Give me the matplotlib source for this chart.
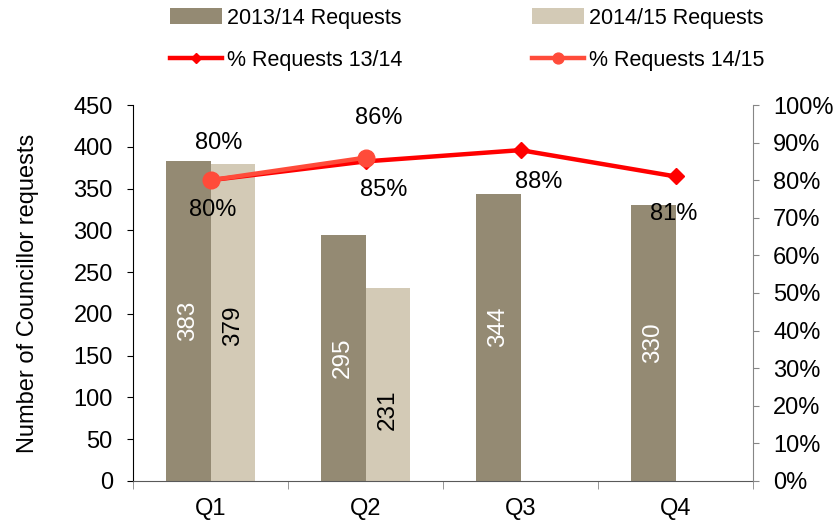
import numpy as np
import matplotlib.pyplot as plt
from matplotlib.ticker import PercentFormatter, FixedLocator

plt.rcParams['font.family'] = ['Liberation Sans', 'DejaVu Sans']

quarters = ['Q1', 'Q2', 'Q3', 'Q4']
requests_1314 = [383, 295, 344, 330]
requests_1415 = [379, 231]
pct_1314 = [80, 85, 88, 81]
pct_1415 = [80, 86]

dark = '#948A73'
light = '#D3CAB6'
red = '#FF0000'
red2 = '#FF4B3A'
fs = 17

fig = plt.figure(figsize=(8.38, 5.24), dpi=100)
ax = fig.add_axes([0.1587, 0.0821, 0.74, 0.7175])
ax2 = ax.twinx()

x = np.arange(len(quarters))
w = 0.29
x14 = x[:len(requests_1415)]
b1 = ax.bar(x - w / 2, requests_1314, w, color=dark, label='2013/14 Requests', zorder=2)
b2 = ax.bar(x14 + w / 2, requests_1415, w, color=light,
            label='2014/15 Requests', zorder=2)

# value labels inside the bars, rotated; small nudges (pixels) as in the original
nudge_1314 = [0, 0, 11, 0]
nudge_1415 = [-3, -25]
for i, v in enumerate(requests_1314):
    ax.annotate(str(v), (x[i] - w / 2, v / 2), xytext=(0, nudge_1314[i]),
                textcoords='offset pixels', ha='center', va='center',
                rotation=90, color='white', fontsize=17.5, zorder=3)
for i, v in enumerate(requests_1415):
    ax.annotate(str(v), (x14[i] + w / 2, v / 2), xytext=(0, nudge_1415[i]),
                textcoords='offset pixels', ha='center', va='center',
                rotation=90, color='black', fontsize=17.5, zorder=3)

l1, = ax2.plot(x, pct_1314, color=red, lw=3.2, marker='D', markersize=8,
               label='% Requests 13/14', zorder=3)
l2, = ax2.plot(x14, pct_1415, color=red2, lw=3.2, marker='o',
               markersize=12, label='% Requests 14/15', zorder=4)

# data labels (offsets in pixels): 13/14 below the points, 14/15 above
off_below = [(2, -30), (18, -29), (18, -32), (-2, -38)]
for i, v in enumerate(pct_1314):
    ax2.annotate(f'{v}%', (x[i], v), xytext=off_below[i], textcoords='offset pixels',
                 ha='center', va='center', fontsize=fs)
off_above = [(8, 37), (13, 40)]
for i, v in enumerate(pct_1415):
    ax2.annotate(f'{v}%', (x14[i], v), xytext=off_above[i], textcoords='offset pixels',
                 ha='center', va='center', fontsize=fs)

ax.set_xlim(-0.5, 3.5)
ax.set_ylim(0, 450)
ax.set_yticks(np.arange(0, 451, 50))
ax2.set_ylim(0, 100)
ax2.set_yticks(np.arange(0, 101, 10))
ax2.yaxis.set_major_formatter(PercentFormatter(decimals=0))

ax.set_xticks(x)
ax.set_xticklabels(quarters)
ax.xaxis.set_minor_locator(FixedLocator(np.arange(-0.5, 3.6, 1)))
ax.tick_params(axis='x', which='major', length=0, pad=12, labelsize=fs)
ax.tick_params(axis='x', which='minor', length=6, color='#868686', direction='out')
ax.tick_params(axis='y', length=4.5, direction='out', labelsize=fs, pad=10)
ax2.tick_params(axis='y', length=4.5, direction='out', labelsize=fs, color='#868686', pad=10)

ax.spines['top'].set_visible(False)
ax2.spines['top'].set_visible(False)
ax.spines['right'].set_visible(False)
ax2.spines['left'].set_visible(False)
ax2.spines['bottom'].set_visible(False)
ax2.spines['right'].set_color('#868686')
ax.spines['bottom'].set_color('#595959')
ax.spines['left'].set_color('black')

ax.set_ylabel('Number of Councillor requests', fontsize=fs, labelpad=25)

fig.legend([b1, l1, b2, l2], ['2013/14 Requests', '% Requests 13/14',
                              '2014/15 Requests', '% Requests 14/15'],
           ncol=2, loc='upper left', bbox_to_anchor=(0.1926, 1.002), frameon=False,
           borderaxespad=0, fontsize=15.5, handlelength=2.42, handletextpad=0.23,
           columnspacing=6.0, labelspacing=0.98, markerscale=0.65)

fig.savefig('out.png', dpi=100)
